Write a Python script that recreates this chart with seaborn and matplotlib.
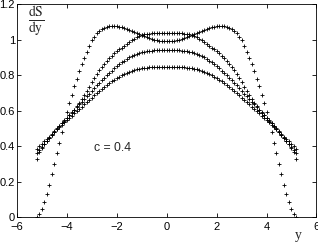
import numpy as np
import pandas as pd
import matplotlib
matplotlib.use("Agg")
import matplotlib.pyplot as plt
import seaborn as sns

# grille commune en y, de -5.2 a 5.2 par pas de 0.1
y_pos = np.round(np.arange(-52, 53) / 10.0, 1)

# courbe a double bosse (tombe a zero aux bords)
ds_a = [0.000, 0.017, 0.045, 0.083, 0.130, 0.183, 0.240, 0.300, 0.360, 0.420,
        0.480, 0.535, 0.590, 0.641, 0.690, 0.736, 0.780, 0.821, 0.860, 0.896,
        0.930, 0.964, 0.995, 1.017, 1.035, 1.049, 1.060, 1.067, 1.072, 1.075,
        1.076, 1.076, 1.075, 1.073, 1.070, 1.066, 1.062, 1.056, 1.050, 1.044,
        1.037, 1.030, 1.024, 1.018, 1.012, 1.007, 1.003, 0.999, 0.996, 0.994,
        0.992, 0.990,
        0.990,
        0.990, 0.992, 0.994, 0.996, 0.999, 1.003, 1.007, 1.012, 1.018, 1.024,
        1.030, 1.037, 1.044, 1.050, 1.056, 1.062, 1.066, 1.070, 1.073, 1.075,
        1.076, 1.076, 1.075, 1.072, 1.067, 1.060, 1.049, 1.035, 1.017, 0.995,
        0.964, 0.930, 0.896, 0.860, 0.821, 0.780, 0.736, 0.690, 0.641, 0.590,
        0.535, 0.480, 0.420, 0.360, 0.300, 0.240, 0.183, 0.130, 0.083, 0.045,
        0.017, 0.000]

ds_b = [0.330, 0.365, 0.390, 0.410, 0.428, 0.446, 0.463, 0.481, 0.498, 0.513,
        0.528, 0.543, 0.558, 0.573, 0.588, 0.605, 0.625, 0.645, 0.665, 0.687,
        0.710, 0.735, 0.760, 0.783, 0.805, 0.826, 0.845, 0.863, 0.880, 0.895,
        0.910, 0.923, 0.935, 0.945, 0.955, 0.965, 0.975, 0.985, 0.995, 1.004,
        1.012, 1.021, 1.028, 1.031, 1.033, 1.034, 1.035, 1.035, 1.036, 1.036,
        1.037, 1.037,
        1.037,
        1.037, 1.037, 1.036, 1.036, 1.035, 1.035, 1.034, 1.033, 1.031, 1.028,
        1.021, 1.012, 1.004, 0.995, 0.985, 0.975, 0.965, 0.955, 0.945, 0.935,
        0.923, 0.910, 0.895, 0.880, 0.863, 0.845, 0.826, 0.805, 0.783, 0.760,
        0.735, 0.710, 0.687, 0.665, 0.645, 0.625, 0.605, 0.588, 0.573, 0.558,
        0.543, 0.528, 0.513, 0.498, 0.481, 0.463, 0.446, 0.428, 0.410, 0.390,
        0.365, 0.330]

ds_c = [0.360, 0.378, 0.395, 0.413, 0.430, 0.448, 0.465, 0.483, 0.500, 0.515,
        0.530, 0.545, 0.560, 0.575, 0.590, 0.605, 0.620, 0.635, 0.650, 0.665,
        0.680, 0.695, 0.710, 0.726, 0.742, 0.757, 0.772, 0.786, 0.800, 0.813,
        0.825, 0.838, 0.850, 0.861, 0.872, 0.882, 0.892, 0.900, 0.908, 0.914,
        0.920, 0.924, 0.928, 0.931, 0.934, 0.936, 0.938, 0.940, 0.941, 0.942,
        0.943, 0.943,
        0.943,
        0.943, 0.943, 0.942, 0.941, 0.940, 0.938, 0.936, 0.934, 0.931, 0.928,
        0.924, 0.920, 0.914, 0.908, 0.900, 0.892, 0.882, 0.872, 0.861, 0.850,
        0.838, 0.825, 0.813, 0.800, 0.786, 0.772, 0.757, 0.742, 0.726, 0.710,
        0.695, 0.680, 0.665, 0.650, 0.635, 0.620, 0.605, 0.590, 0.575, 0.560,
        0.545, 0.530, 0.515, 0.500, 0.483, 0.465, 0.448, 0.430, 0.413, 0.395,
        0.378, 0.360]

ds_d = [0.385, 0.399, 0.412, 0.426, 0.440, 0.454, 0.467, 0.481, 0.494, 0.507,
        0.520, 0.533, 0.546, 0.559, 0.572, 0.585, 0.597, 0.610, 0.622, 0.635,
        0.648, 0.661, 0.673, 0.686, 0.698, 0.710, 0.722, 0.734, 0.745, 0.755,
        0.765, 0.774, 0.782, 0.790, 0.798, 0.805, 0.812, 0.818, 0.823, 0.828,
        0.832, 0.835, 0.838, 0.840, 0.842, 0.843, 0.844, 0.845, 0.845, 0.845,
        0.845, 0.845,
        0.845,
        0.845, 0.845, 0.845, 0.845, 0.845, 0.844, 0.843, 0.842, 0.840, 0.838,
        0.835, 0.832, 0.828, 0.823, 0.818, 0.812, 0.805, 0.798, 0.790, 0.782,
        0.774, 0.765, 0.755, 0.745, 0.734, 0.722, 0.710, 0.698, 0.686, 0.673,
        0.661, 0.648, 0.635, 0.622, 0.610, 0.597, 0.585, 0.572, 0.559, 0.546,
        0.533, 0.520, 0.507, 0.494, 0.481, 0.467, 0.454, 0.440, 0.426, 0.412,
        0.399, 0.385]

x_ticks = [-6, -4, -2, 0, 2, 4, 6]
y_ticks = [0, 0.2, 0.4, 0.6, 0.8, 1.0, 1.2]
y_tick_labels = ["0", "0.2", "0.4", "0.6", "0.8", "1", "1.2"]

frames = []
for nom, vals in [("a", ds_a), ("b", ds_b), ("c", ds_c), ("d", ds_d)]:
    frames.append(pd.DataFrame({"y": y_pos, "dSdy": vals, "courbe": nom}))
df = pd.concat(frames, ignore_index=True)

sns.set_style("ticks")
plt.rcParams['font.family'] = ['Liberation Sans', 'DejaVu Sans']
plt.rcParams['mathtext.fontset'] = 'stix'

fig = plt.figure(figsize=(3.18, 2.42), dpi=100)
ax = fig.add_axes([0.0535, 0.103, 0.9415, 0.88])

sns.scatterplot(data=df, x="y", y="dSdy", color="black", marker="+",
                s=7, linewidth=0.6, ax=ax, legend=False)

ax.set_xlim(-6, 6)
ax.set_ylim(0, 1.2)
ax.set_xticks(x_ticks)
ax.set_xticklabels([str(t).replace("-", "\u2212") for t in x_ticks])
ax.set_yticks(y_ticks)
ax.set_yticklabels(y_tick_labels)
ax.tick_params(direction="in", length=3, width=0.6, labelsize=8,
               top=True, right=True, colors="black")
ax.tick_params(axis="x", pad=3.5)
ax.tick_params(axis="y", pad=1.5)
for sp in ax.spines.values():
    sp.set_linewidth(0.6)
    sp.set_color("black")
ax.set_xlabel("")
ax.set_ylabel("")

ax.text(0.063, 0.915, r"$\frac{\mathrm{dS}}{\mathrm{dy}}$", transform=ax.transAxes,
        ha="center", va="center", fontsize=14)
ax.text(-2.9, 0.39, "c = 0.4", ha="left", va="center", fontsize=8.8)
fig.text(0.937, 0.025, "y", family="Liberation Serif", fontsize=10,
         ha="center", va="center")

fig.savefig("out.png", dpi=100)
